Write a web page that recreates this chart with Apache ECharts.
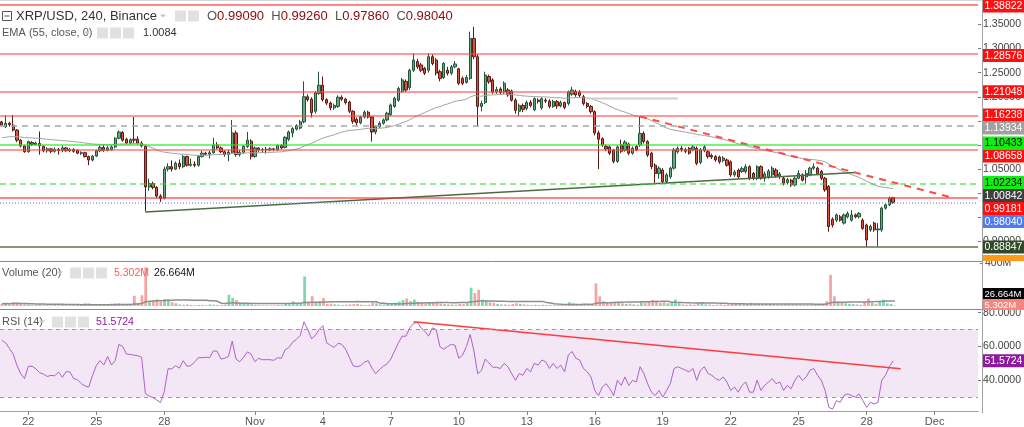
<!DOCTYPE html>
<html>
<head>
<meta charset="utf-8">
<title>XRP/USD, 240, Binance</title>
<script src="https://cdn.jsdelivr.net/npm/echarts@6/dist/echarts.min.js"></script>
<style>
  html, body { margin: 0; padding: 0; background: #fff; }
  #chart { width: 1024px; height: 427px; }
</style>
</head>
<body>
<div id="chart"></div>
<script>
// 4h bars, first slot = Oct 20 20:00
const startTime = Date.UTC(2018, 9, 20, 20);
const slotCount = 259;

const opens = [
  1.148,1.138,1.145,1.141,1.131,1.110,1.098,1.086,1.105,1.101,
  1.103,1.097,1.088,1.092,1.087,1.091,1.089,1.094,1.088,1.091,
  1.089,1.083,1.084,1.076,1.069,1.077,1.088,1.095,1.089,1.090,
  1.096,1.114,1.126,1.112,1.104,1.112,1.112,1.104,1.097,1.013,
  1.020,1.012,0.994,0.990,1.050,1.055,1.050,1.062,1.055,1.076,
  1.058,1.060,1.058,1.076,1.083,1.081,1.084,1.100,1.094,1.086,
  1.080,1.085,1.125,1.080,1.085,1.097,1.108,1.076,1.094,1.090,
  1.091,1.090,1.092,1.090,1.099,1.095,1.112,1.125,1.133,1.135,
  1.148,1.200,1.195,1.170,1.207,1.224,1.194,1.187,1.177,1.180,
  1.199,1.195,1.189,1.170,1.153,1.146,1.158,1.168,1.158,1.127,
  1.138,1.145,1.152,1.163,1.180,1.193,1.211,1.232,1.219,1.255,
  1.273,1.266,1.259,1.255,1.283,1.276,1.252,1.240,1.255,1.249,
  1.262,1.258,1.238,1.230,1.238,1.321,1.283,1.180,1.188,1.242,
  1.235,1.210,1.216,1.210,1.214,1.212,1.193,1.170,1.182,1.176,
  1.188,1.173,1.193,1.177,1.193,1.191,1.180,1.190,1.181,1.188,
  1.186,1.205,1.211,1.210,1.200,1.186,1.180,1.169,1.125,1.113,
  1.097,1.096,1.089,1.066,1.100,1.089,1.102,1.083,1.097,1.100,
  1.124,1.107,1.083,1.058,1.041,1.048,1.024,1.034,1.052,1.086,
  1.093,1.090,1.093,1.090,1.093,1.064,1.088,1.086,1.078,1.076,
  1.075,1.068,1.069,1.065,1.038,1.048,1.045,1.045,1.055,1.041,
  1.031,1.055,1.031,1.034,1.038,1.048,1.036,1.031,1.022,1.027,
  1.017,1.031,1.038,1.034,1.038,1.052,1.052,1.045,1.031,1.014,
  0.946,0.944,0.951,0.938,0.951,0.944,0.955,0.951,0.944,0.934,
  0.924,0.938,0.924,0.924,0.969,0.976,0.9909
];
const closes = [
  1.141,1.145,1.142,1.131,1.110,1.098,1.086,1.107,1.101,1.104,
  1.098,1.088,1.092,1.087,1.091,1.089,1.094,1.088,1.091,1.087,
  1.083,1.084,1.076,1.069,1.077,1.088,1.095,1.089,1.094,1.096,
  1.114,1.127,1.110,1.104,1.111,1.110,1.104,1.098,1.013,1.020,
  1.012,0.994,0.989,1.050,1.055,1.050,1.062,1.055,1.076,1.058,
  1.060,1.058,1.076,1.083,1.081,1.084,1.100,1.094,1.086,1.080,
  1.085,1.125,1.080,1.085,1.097,1.110,1.076,1.094,1.090,1.091,
  1.090,1.092,1.091,1.099,1.094,1.116,1.127,1.134,1.140,1.148,
  1.200,1.194,1.167,1.208,1.224,1.194,1.187,1.177,1.182,1.199,
  1.195,1.188,1.170,1.149,1.146,1.158,1.168,1.158,1.127,1.138,
  1.145,1.152,1.166,1.183,1.197,1.217,1.235,1.214,1.255,1.276,
  1.262,1.255,1.249,1.283,1.269,1.249,1.238,1.269,1.249,1.262,
  1.268,1.228,1.228,1.240,1.321,1.283,1.180,1.186,1.245,1.231,
  1.210,1.215,1.209,1.228,1.204,1.193,1.172,1.182,1.174,1.188,
  1.182,1.196,1.190,1.196,1.191,1.180,1.190,1.181,1.188,1.178,
  1.210,1.214,1.204,1.203,1.186,1.180,1.169,1.125,1.112,1.100,
  1.092,1.083,1.066,1.096,1.087,1.106,1.083,1.093,1.090,1.124,
  1.107,1.079,1.055,1.041,1.052,1.024,1.038,1.052,1.090,1.093,
  1.090,1.087,1.083,1.096,1.062,1.090,1.096,1.076,1.075,1.069,
  1.065,1.073,1.058,1.038,1.044,1.034,1.051,1.055,1.031,1.031,
  1.055,1.031,1.040,1.046,1.052,1.036,1.040,1.021,1.028,1.017,
  1.031,1.041,1.027,1.041,1.052,1.055,1.041,1.031,1.007,0.931,
  0.934,0.955,0.944,0.955,0.958,0.955,0.951,0.958,0.927,0.903,
  0.931,0.924,0.926,0.969,0.976,0.989,0.9804
];
const highs = [
  1.150,1.161,1.148,1.162,1.133,1.112,1.100,1.109,1.108,1.107,
  1.128,1.099,1.095,1.094,1.095,1.094,1.099,1.096,1.094,1.093,
  1.091,1.087,1.086,1.078,1.079,1.090,1.100,1.101,1.098,1.100,
  1.116,1.130,1.129,1.115,1.114,1.158,1.118,1.108,1.100,1.030,
  1.024,1.015,0.998,1.055,1.062,1.068,1.066,1.070,1.080,1.078,
  1.072,1.066,1.079,1.088,1.086,1.088,1.115,1.106,1.097,1.089,
  1.090,1.152,1.130,1.090,1.100,1.127,1.112,1.097,1.095,1.094,
  1.096,1.095,1.094,1.101,1.102,1.118,1.130,1.137,1.143,1.152,
  1.232,1.205,1.199,1.212,1.252,1.242,1.197,1.190,1.186,1.203,
  1.203,1.198,1.192,1.172,1.157,1.160,1.172,1.171,1.160,1.141,
  1.149,1.155,1.169,1.186,1.200,1.221,1.239,1.236,1.258,1.290,
  1.279,1.270,1.262,1.290,1.288,1.280,1.256,1.272,1.262,1.266,
  1.274,1.260,1.242,1.245,1.335,1.345,1.288,1.192,1.252,1.246,
  1.238,1.221,1.220,1.232,1.218,1.215,1.197,1.186,1.186,1.192,
  1.193,1.199,1.197,1.199,1.197,1.195,1.194,1.193,1.192,1.190,
  1.213,1.221,1.215,1.214,1.204,1.189,1.183,1.172,1.130,1.116,
  1.101,1.099,1.092,1.099,1.111,1.110,1.105,1.097,1.100,1.159,
  1.128,1.110,1.086,1.062,1.056,1.052,1.042,1.055,1.094,1.097,
  1.098,1.094,1.096,1.100,1.097,1.094,1.100,1.089,1.082,1.079,
  1.078,1.077,1.072,1.068,1.048,1.051,1.055,1.060,1.058,1.044,
  1.058,1.058,1.045,1.050,1.056,1.052,1.044,1.035,1.032,1.030,
  1.035,1.048,1.041,1.048,1.055,1.062,1.055,1.048,1.034,1.017,
  0.950,0.958,0.955,0.958,0.962,0.965,0.958,0.961,0.948,0.937,
  0.935,0.941,0.938,0.972,0.979,0.993,0.9926
];
const lows = [
  1.139,1.135,1.138,1.128,1.106,1.095,1.084,1.084,1.098,1.099,
  1.080,1.085,1.084,1.083,1.084,1.080,1.085,1.086,1.085,1.084,
  1.081,1.079,1.074,1.058,1.066,1.075,1.085,1.086,1.087,1.088,
  1.093,1.112,1.107,1.101,1.101,1.104,1.101,1.095,0.962,1.005,
  1.008,0.990,0.982,0.987,1.045,1.045,1.048,1.050,1.052,1.055,
  1.055,1.054,1.055,1.074,1.078,1.072,1.082,1.091,1.083,1.076,
  1.066,1.082,1.076,1.076,1.082,1.094,1.070,1.074,1.086,1.084,
  1.082,1.087,1.087,1.088,1.091,1.093,1.108,1.116,1.130,1.132,
  1.145,1.190,1.157,1.165,1.204,1.190,1.183,1.172,1.173,1.177,
  1.191,1.184,1.166,1.144,1.140,1.143,1.155,1.155,1.107,1.122,
  1.135,1.142,1.149,1.160,1.177,1.190,1.208,1.210,1.214,1.251,
  1.258,1.251,1.245,1.250,1.265,1.244,1.232,1.237,1.244,1.245,
  1.259,1.224,1.224,1.227,1.235,1.278,1.138,1.170,1.185,1.227,
  1.206,1.206,1.205,1.206,1.200,1.190,1.165,1.160,1.168,1.172,
  1.178,1.170,1.186,1.173,1.187,1.176,1.177,1.175,1.178,1.174,
  1.182,1.202,1.200,1.199,1.182,1.176,1.165,1.120,1.050,1.096,
  1.087,1.079,1.062,1.063,1.083,1.086,1.079,1.080,1.087,1.096,
  1.103,1.075,1.050,1.020,1.030,1.020,1.020,1.030,1.049,1.082,
  1.086,1.083,1.080,1.087,1.058,1.060,1.085,1.072,1.071,1.065,
  1.061,1.064,1.055,1.034,1.034,1.030,1.042,1.041,1.027,1.027,
  1.027,1.028,1.024,1.030,1.034,1.032,1.029,1.016,1.018,1.013,
  1.014,1.029,1.024,1.020,1.035,1.048,1.038,1.027,1.003,0.920,
  0.929,0.940,0.941,0.935,0.948,0.941,0.948,0.948,0.924,0.8885,
  0.920,0.920,0.8885,0.920,0.966,0.973,0.9786
];
// volume in millions
const volumesM = [
  20,25,15,35,30,20,15,12,10,8,
  18,10,8,7,9,8,10,7,6,8,
  9,10,22,25,15,14,12,10,9,22,
  25,24,12,10,15,95,30,100,360,45,
  55,62,40,65,60,35,25,15,12,14,
  10,8,9,10,8,15,12,10,9,12,
  105,75,55,30,30,25,15,10,8,7,
  8,6,7,9,8,18,15,42,25,20,
  275,30,92,38,45,75,20,22,15,12,
  10,12,15,18,20,12,10,12,30,25,
  15,14,18,22,30,40,55,70,45,60,
  40,30,25,35,30,28,22,18,15,14,
  12,20,18,25,170,120,150,60,55,35,
  30,20,15,14,12,18,25,20,15,12,
  10,12,10,11,9,10,8,10,9,12,
  35,25,18,15,20,18,22,210,90,45,
  35,30,40,35,25,20,22,15,12,45,
  30,40,55,50,30,35,25,30,60,25,
  15,12,14,12,30,25,15,14,10,12,
  14,10,15,30,20,25,15,18,30,20,
  25,22,20,18,15,14,12,20,15,18,
  15,14,12,10,12,10,15,18,45,290,
  90,40,30,25,20,18,15,12,35,70,
  30,20,45,60,25,18,5.302
];
const rsiValues = [
  63.6,62.2,58.8,55.5,48.7,43.9,41.0,48.3,48.3,46.8,
  44.5,43.7,42.3,42.9,42.7,44.9,41.8,45.2,44.9,41.0,
  40.4,38.1,36.7,36.0,42.9,48.7,51.6,49.1,54.1,49.1,
  51.6,61.3,59.9,55.5,55.3,54.9,54.5,53.6,32.3,30.7,
  29.8,28.4,26.9,33.3,46.8,46.8,48.7,47.2,51.6,48.3,
  48.7,50.7,53.4,53.4,53.6,53.4,57.4,57.2,52.6,53.0,
  54.1,63.2,52.6,51.0,53.6,56.8,55.5,51.0,53.0,52.2,
  52.2,52.2,51.8,53.4,53.0,58.0,59.4,62.6,64.2,66.5,
  74.6,70.0,64.6,66.5,70.0,72.3,62.2,60.7,59.4,61.9,
  61.3,58.4,53.6,48.7,48.0,48.7,50.7,51.6,47.2,43.9,
  46.4,48.3,49.7,52.6,57.4,62.2,66.1,66.1,71.0,73.5,
  74.4,71.0,69.0,66.1,71.0,70.0,59.9,58.4,59.9,61.3,
  60.7,53.0,54.9,60.0,67.1,57.4,43.9,45.8,52.6,50.3,
  47.7,47.7,47,50,48,44,40,44,43,47,
  45,50,49,52,51,47,50,47,49,45,
  55,57,53,52,47,45,42,34,31,36,
  38,35,31,40,37,42,37,40,39,48,
  44,38,33,31,34,30,34,38,47,48,
  47,46,45,47,40,46,48,44,43,41,
  40,42,39,34,36,33,37,39,33,33,
  40,34,37,39,41,38,39,34,37,35,
  40,43,40,42,46,47,43,40,34,24,
  23,28,27,31,32,31,30,32,28,24,
  27,26,27,40,43,48,51.5724
];

// EMA(55) value at the first visible bar
const emaSeed = 1.115;

// horizontal levels drawn on the price pane
const levelValues = [1.38822, 1.28576, 1.21048, 1.16238, 1.13934, 1.10433, 1.08658, 1.02234, 0.99181, 0.98040, 0.88847];
const emaLastValue = 1.00842;
const volumeLastM = 5.302;
const volumeMaLastM = 26.664;
const rsiLast = 51.5724;

// drawn trend lines: [bar index, value]
const supportLine = [[38, 0.961], [226, 1.043]];
const resistanceLine = [[169, 1.159], [252, 0.990]];
const shortGrayLine = [[155, 1.1965], [179, 1.1965]];
const rsiTrendLine = [[109, 74.6], [238, 46.8]];

const priceTicks = [0.90, 0.95, 1.00, 1.05, 1.10, 1.15, 1.20, 1.25, 1.30, 1.35];
const tickDays = ['10-22','10-25','10-28','11-01','11-04','11-07','11-10','11-13','11-16','11-19','11-22','11-25','11-28','12-01'];
const tickTexts = ['22','25','28','Nov','4','7','10','13','16','19','22','25','28','Dec'];

// ---- styles ----
const fontFamily = '"Liberation Sans", Arial, sans-serif';
const RED = { line: 'rgba(255,40,40,0.75)', w: 1.5, type: 'solid', bg: '#ff1010', fg: '#fff' };
const RED_SOFT = { line: 'rgba(255,70,70,0.55)', w: 2, type: 'solid', bg: '#ff1010', fg: '#fff' };
const levelStyles = [
  RED, RED_SOFT, RED_SOFT, RED_SOFT,
  { line: '#a8a8a8', w: 1.5, type: [6, 5], bg: '#a0a0a0', fg: '#fff' },
  { line: 'rgba(40,230,40,0.6)', w: 2, type: 'solid', bg: '#10f010', fg: '#000' },
  RED_SOFT,
  { line: 'rgba(40,220,40,0.7)', w: 1.5, type: [6, 4], bg: '#10f010', fg: '#000' },
  RED,
  { line: '#8ea6ee', w: 1.5, type: [1, 2], bg: '#4f7cf0', fg: '#fff' },
  { line: '#5e7552', w: 1.5, type: 'solid', bg: '#2f4a24', fg: '#fff' }
];

const pad = n => (n < 10 ? '0' : '') + n;
const categories = [];
for (let i = 0; i < slotCount; i++) {
  const d = new Date(startTime + i * 4 * 3600 * 1000);
  categories.push(pad(d.getUTCMonth() + 1) + '-' + pad(d.getUTCDate()) + ' ' + pad(d.getUTCHours()));
}
const labelOf = {};
tickDays.forEach((d, i) => { labelOf[d + ' 00'] = tickTexts[i]; });
const isTick = (idx, val) => labelOf[val] !== undefined;

const candleData = opens.map((o, i) => [o, closes[i], lows[i], highs[i]]);

// EMA 55
const ema = [];
let e = emaSeed;
closes.forEach((c, i) => {
  if (i > 0) e = e + (c - e) * 2 / 56;
  ema.push(+e.toFixed(5));
});

// volume MA 20
const volMa = volumesM.map((v, i) => {
  const from = Math.max(0, i - 19);
  let s = 0;
  for (let k = from; k <= i; k++) s += volumesM[k];
  return +(s / (i - from + 1)).toFixed(3);
});

const volData = volumesM.map((v, i) => ({
  value: v,
  itemStyle: { color: closes[i] >= opens[i] ? '#7bd8ad' : '#f7a3a0' }
}));

const chart = echarts.init(document.getElementById('chart'));

const gridL = -1, gridR = 44;
const option = {
  animation: false,
  backgroundColor: '#fff',
  grid: [
    { left: gridL, right: gridR, top: 1, height: 259 },
    { left: gridL, right: gridR, top: 263, height: 43 },
    { left: gridL, right: gridR, top: 310, height: 103 }
  ],
  xAxis: [0, 1, 2].map(g => ({
    type: 'category',
    gridIndex: g,
    data: categories,
    boundaryGap: true,
    axisLine: { show: g === 2, lineStyle: { color: '#a0a0a0' } },
    axisTick: { show: g === 2, interval: isTick, alignWithLabel: true, length: 4, lineStyle: { color: '#888' } },
    axisLabel: { show: g === 2, interval: isTick, formatter: v => labelOf[v] || '', color: '#555', fontSize: 11, margin: 5, fontFamily },
    splitLine: { show: false }
  })),
  yAxis: [
    {
      gridIndex: 0, type: 'value', position: 'right', min: 0.8615, max: 1.3986,
      axisLine: { show: false }, splitLine: { show: false },
      axisTick: { show: true, customValues: priceTicks, length: 3, lineStyle: { color: '#777' } },
      axisLabel: { customValues: priceTicks, formatter: v => v.toFixed(5), color: '#444', fontSize: 10.5, margin: 5, fontFamily }
    },
    {
      gridIndex: 1, type: 'value', position: 'right', min: 0, max: 400,
      axisLine: { show: false }, splitLine: { show: false },
      axisTick: { show: true, customValues: [400], length: 3, lineStyle: { color: '#777' } },
      axisLabel: { customValues: [400], formatter: v => v + 'M', color: '#444', fontSize: 10.5, margin: 5, fontFamily }
    },
    {
      gridIndex: 2, type: 'value', position: 'right', min: 21.86, max: 81.57,
      axisLine: { show: false }, splitLine: { show: false },
      axisTick: { show: true, customValues: [40, 60, 80], length: 3, lineStyle: { color: '#777' } },
      axisLabel: { customValues: [40, 60, 80], formatter: v => v.toFixed(4), color: '#444', fontSize: 10.5, margin: 5, fontFamily }
    }
  ],
  series: [
    {
      name: 'XRP/USD', type: 'candlestick', xAxisIndex: 0, yAxisIndex: 0,
      data: candleData, barWidth: '72%',
      itemStyle: { color: '#6ba583', color0: '#d75442', borderColor: '#225437', borderColor0: '#5b1a13', borderWidth: 1 },
      markLine: {
        silent: true, symbol: ['none', 'none'], label: { show: false }, animation: false,
        data: levelValues.map((v, i) => ({
          yAxis: v,
          lineStyle: { color: levelStyles[i].line, width: levelStyles[i].w, type: levelStyles[i].type }
        }))
      }
    },
    {
      name: 'EMA', type: 'line', xAxisIndex: 0, yAxisIndex: 0, data: ema,
      symbol: 'none', lineStyle: { color: '#a3a3a3', width: 1 }, z: 3
    },
    {
      name: 'support', type: 'line', xAxisIndex: 0, yAxisIndex: 0, data: supportLine,
      symbol: 'none', lineStyle: { color: '#4d6b42', width: 1.5 }, z: 4
    },
    {
      name: 'resistance', type: 'line', xAxisIndex: 0, yAxisIndex: 0, data: resistanceLine,
      symbol: 'none', lineStyle: { color: '#ff4a4a', width: 2, type: [7, 6] }, z: 4
    },
    {
      name: 'range', type: 'line', xAxisIndex: 0, yAxisIndex: 0, data: shortGrayLine,
      symbol: 'none', lineStyle: { color: '#cfcfcf', width: 2 }, z: 4
    },
    {
      name: 'Volume', type: 'bar', xAxisIndex: 1, yAxisIndex: 1, data: volData, barWidth: '72%'
    },
    {
      name: 'Volume MA', type: 'line', xAxisIndex: 1, yAxisIndex: 1, data: volMa,
      symbol: 'none', lineStyle: { color: '#8e8e8e', width: 1.5 }
    },
    {
      name: 'RSI', type: 'line', xAxisIndex: 2, yAxisIndex: 2, data: rsiValues,
      symbol: 'none', lineStyle: { color: '#ad62c8', width: 1 }, z: 3,
      markArea: {
        silent: true,
        itemStyle: { color: '#f3e6f5' },
        data: [[{ yAxis: 30 }, { yAxis: 70 }]]
      },
      markLine: {
        silent: true, symbol: ['none', 'none'], label: { show: false },
        lineStyle: { color: '#9a9a9a', width: 1, type: [4, 4] },
        data: [{ yAxis: 70 }, { yAxis: 30 }]
      }
    },
    {
      name: 'RSI trend', type: 'line', xAxisIndex: 2, yAxisIndex: 2, data: rsiTrendLine,
      symbol: 'none', lineStyle: { color: '#ff3b3b', width: 1.5 }, z: 4
    }
  ]
};
chart.setOption(option);

// ---- price scale tags and legend headers ----
function stackTags(tags, bottom, h) {
  tags.sort((a, b) => a.y - b.y);
  for (let i = 1; i < tags.length; i++) {
    if (tags[i].y < tags[i - 1].y + h) tags[i].y = tags[i - 1].y + h;
  }
  const last = tags.length - 1;
  if (last >= 0 && tags[last].y > bottom - h / 2) {
    tags[last].y = bottom - h / 2;
    for (let i = last - 1; i >= 0; i--) {
      if (tags[i].y > tags[i + 1].y - h) tags[i].y = tags[i + 1].y - h;
    }
  }
  return tags;
}

const tagH = 13;
const mainTags = levelValues.map((v, i) => ({
  y: chart.convertToPixel({ yAxisIndex: 0 }, v), text: v.toFixed(5), bg: levelStyles[i].bg, fg: levelStyles[i].fg
}));
mainTags.push({ y: chart.convertToPixel({ yAxisIndex: 0 }, emaLastValue), text: emaLastValue.toFixed(5), bg: '#3e3e3e', fg: '#fff' });
stackTags(mainTags, 260, tagH);

const volTags = [
  { y: chart.convertToPixel({ yAxisIndex: 1 }, volumeMaLastM), text: volumeMaLastM.toFixed(3) + 'M', bg: '#000', fg: '#fff' },
  { y: chart.convertToPixel({ yAxisIndex: 1 }, volumeLastM), text: volumeLastM.toFixed(3) + 'M', bg: '#f8857d', fg: '#fff' }
];
stackTags(volTags, 310, 11);

const rsiTags = [
  { y: chart.convertToPixel({ yAxisIndex: 2 }, rsiLast), text: rsiLast.toFixed(4), bg: '#8c1a9e', fg: '#fff' }
];

const tagX = 983, tagW = 41;
function tagGraphic(t, h, size) {
  return [
    { type: 'rect', z: 100, zlevel: 1, shape: { x: tagX, y: t.y - h / 2, width: tagW, height: h }, style: { fill: t.bg } },
    { type: 'text', z: 101, zlevel: 1, style: { x: tagX + 1.5, y: t.y + 0.5, text: t.text, fill: t.fg, font: size + 'px ' + fontFamily, textVerticalAlign: 'middle', verticalAlign: 'middle' } }
  ];
}

function iconBoxes(x0, y, n) {
  const out = [];
  for (let k = 0; k < n; k++) {
    out.push({ type: 'rect', shape: { x: x0 + k * 13, y: y - 5.5, width: 11, height: 11 }, style: { fill: '#e1e1e1' }, z: 40 });
  }
  return out;
}
function caret(x, y) {
  return { type: 'polygon', shape: { points: [[x, y - 1.5], [x + 6, y - 1.5], [x + 3, y + 1.5]] }, style: { fill: '#c4c4c4' }, z: 40 };
}
function txt(x, y, text, fill, size) {
  return { type: 'text', z: 40, style: { x, y, text, fill, font: size + 'px ' + fontFamily, verticalAlign: 'middle', textVerticalAlign: 'middle' } };
}

const graphics = [];
// separators
graphics.push({ type: 'line', shape: { x1: 0, y1: 0.5, x2: 1024, y2: 0.5 }, style: { stroke: '#d6d6d6', lineWidth: 1 }, z: 30 });
graphics.push({ type: 'line', shape: { x1: 0, y1: 261.5, x2: 983, y2: 261.5 }, style: { stroke: '#8a8a8a', lineWidth: 1 }, z: 30 });
graphics.push({ type: 'line', shape: { x1: 0, y1: 309.5, x2: 983, y2: 309.5 }, style: { stroke: '#8a8a8a', lineWidth: 1 }, z: 30 });
graphics.push({ type: 'line', shape: { x1: 982.5, y1: 0, x2: 982.5, y2: 413 }, style: { stroke: '#a0a0a0', lineWidth: 1 }, z: 30 });
// partly hidden orange tag at the bottom of the price scale
graphics.push({ type: 'rect', shape: { x: tagX, y: 255, width: tagW, height: 6 }, style: { fill: '#ff9a1a' }, z: 45 });

// header, price pane
graphics.push({ type: 'rect', shape: { x: 2.5, y: 11.5, width: 9, height: 9 }, style: { fill: 'none', stroke: '#555', lineWidth: 1 }, z: 40 });
graphics.push({ type: 'line', shape: { x1: 4.5, y1: 16, x2: 9.5, y2: 16 }, style: { stroke: '#555', lineWidth: 1 }, z: 40 });
graphics.push(txt(16, 16, 'XRP/USD, 240, Binance', '#333', 13));
graphics.push(caret(160, 16));
graphics.push(...iconBoxes(175, 16, 2));
graphics.push({
  type: 'text', z: 40,
  style: {
    x: 207, y: 16, font: '13px ' + fontFamily, verticalAlign: 'middle', textVerticalAlign: 'middle',
    text: '{l|O}{v|0.99090}  {l|H}{v|0.99260}  {l|L}{v|0.97860}  {l|C}{v|0.98040}',
    rich: { l: { fill: '#555', font: '13px ' + fontFamily }, v: { fill: '#8b0a0a', font: '13px ' + fontFamily } }
  }
});
graphics.push(txt(2, 33, 'EMA (55, close, 0)', '#555', 11));
graphics.push(caret(84, 33));
graphics.push(...iconBoxes(97, 33, 3));
graphics.push(txt(143, 33, '1.0084', '#333', 11));

// header, volume pane
graphics.push(txt(2, 273, 'Volume (20)', '#555', 11));
graphics.push(caret(57, 273));
graphics.push(...iconBoxes(70, 273, 3));
graphics.push(txt(114, 273, '5.302M', '#f0605a', 10.5));
graphics.push(txt(154, 273, '26.664M', '#111', 10.5));

// header, RSI pane
graphics.push(txt(2, 322, 'RSI (14)', '#555', 11));
graphics.push(caret(39, 322));
graphics.push(...iconBoxes(52, 322, 3));
graphics.push(txt(96, 322, '51.5724', '#8c1a9e', 10.5));

mainTags.forEach(t => graphics.push(...tagGraphic(t, tagH, 10.5)));
volTags.forEach(t => graphics.push(...tagGraphic(t, 11, 9.5)));
rsiTags.forEach(t => graphics.push(...tagGraphic(t, tagH, 10.5)));

chart.setOption({ graphic: graphics });
</script>
</body>
</html>
